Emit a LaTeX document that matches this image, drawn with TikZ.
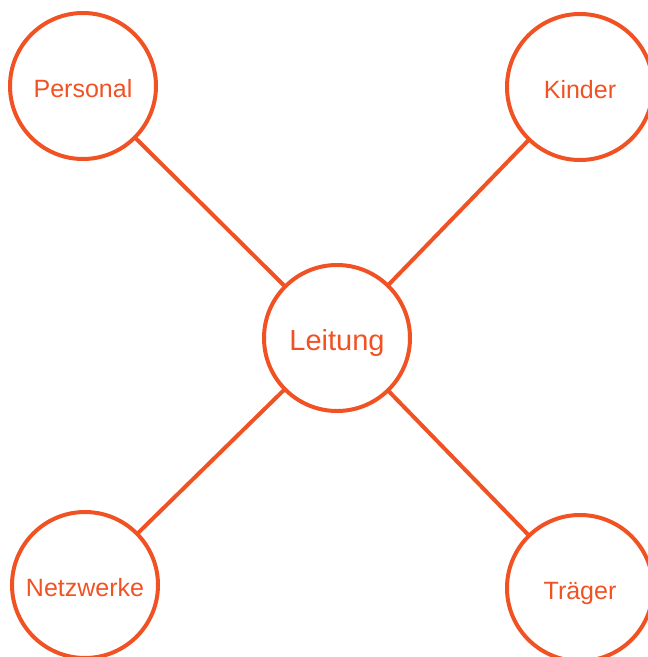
\documentclass[tikz,border=0pt]{standalone}
\usepackage{fontspec}
\setmainfont{Liberation Sans}
\definecolor{org}{RGB}{240,82,36}
\begin{document}
\begin{tikzpicture}[x=1pt,y=-1pt,
  bub/.style={circle,draw=org,line width=4pt,minimum size=146pt,inner sep=0pt,outer sep=0pt,text=org,text height=22pt,text depth=0pt,font=\fontsize{25}{28}\selectfont},
  link/.style={draw=org,line width=4pt}]
\useasboundingbox (0,0) rectangle (648,657);
\node[bub] (pers) at (83,86) {Personal};
\node[bub] (kind) at (580,87) {Kinder};
\node[bub,text height=25pt,font=\fontsize{29}{32}\selectfont] (leit) at (337,338) {Leitung};
\node[bub] (netz) at (85,585) {Netzwerke};
\node[bub] (trag) at (580,588) {Träger};
\draw[link] (pers) -- (leit);
\draw[link] (kind) -- (leit);
\draw[link] (netz) -- (leit);
\draw[link] (trag) -- (leit);
\end{tikzpicture}
\end{document}
